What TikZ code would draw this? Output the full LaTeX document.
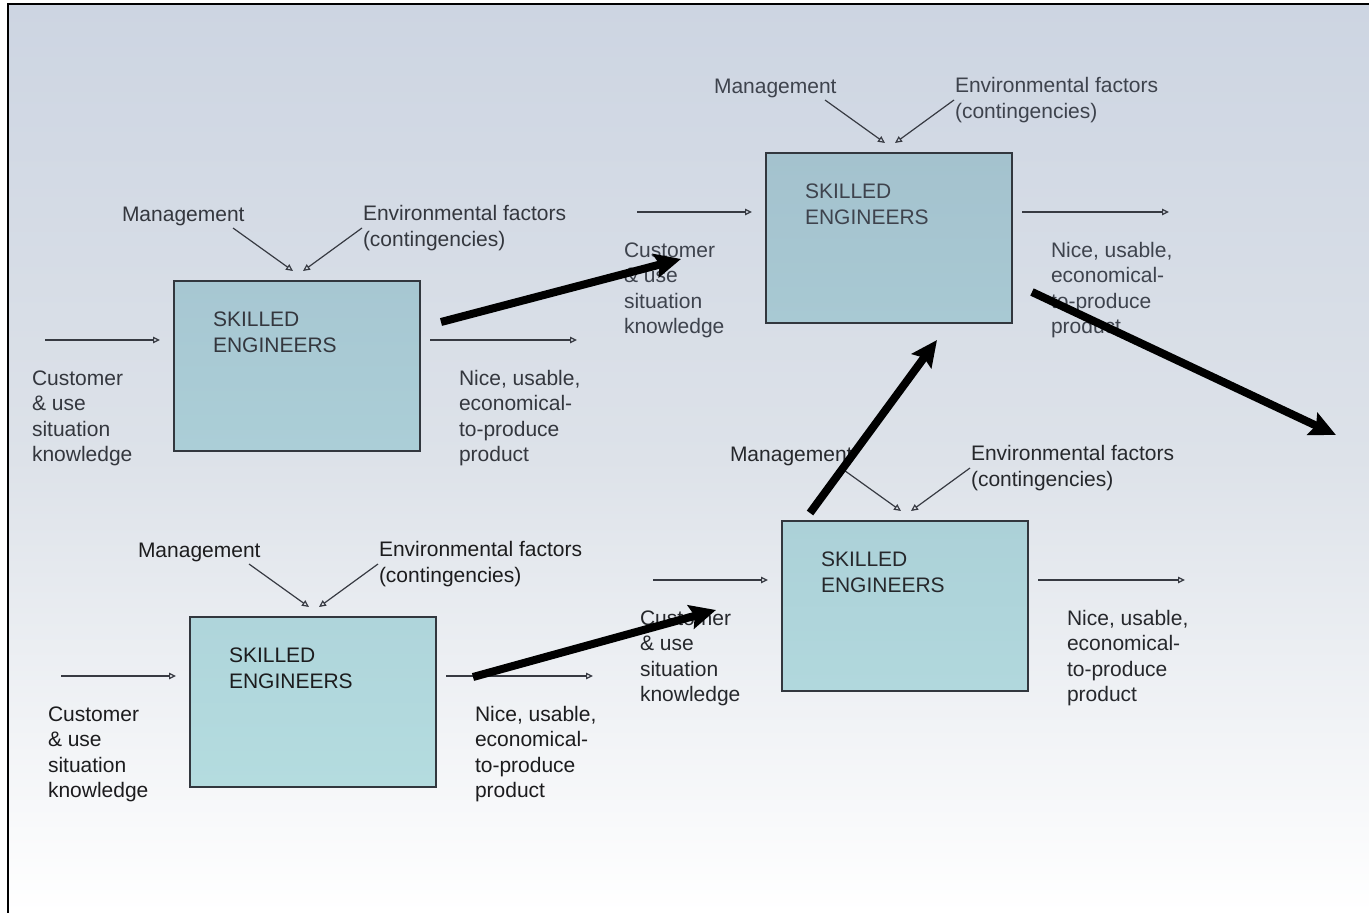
\documentclass[tikz,border=0pt]{standalone}
\usepackage{fontspec}
\setmainfont{Liberation Sans}
\usetikzlibrary{arrows.meta}
\definecolor{bgtop}{RGB}{205,213,226}
\definecolor{bgmid}{RGB}{221,226,233}
\definecolor{linegray}{RGB}{55,58,66}
\definecolor{boxedge}{RGB}{50,55,62}
\definecolor{txtA}{RGB}{62,67,77}
\definecolor{txtB}{RGB}{52,55,62}
\definecolor{txtC}{RGB}{38,40,44}
\definecolor{txtD}{RGB}{28,28,30}
\definecolor{boxAt}{RGB}{164,194,206}
\definecolor{boxAb}{RGB}{168,201,211}
\definecolor{boxBt}{RGB}{167,199,210}
\definecolor{boxBb}{RGB}{171,206,215}
\definecolor{boxCt}{RGB}{172,209,216}
\definecolor{boxCb}{RGB}{177,216,221}
\definecolor{boxDt}{RGB}{175,213,219}
\definecolor{boxDb}{RGB}{180,220,223}
\tikzset{
  x=1pt, y=-1pt,
  lbl/.style={anchor=base west, inner sep=0pt, outer sep=0pt, align=left,
    font=\fontsize{21}{25.5}\selectfont},
  engbox/.style={draw=boxedge, line width=1.3pt, anchor=north west,
    minimum width=246pt, minimum height=170pt, inner sep=0pt, outer sep=0pt},
  thinarrow/.style={draw=linegray, line width=1.2pt,
    -{Triangle[open, length=7pt, width=6.5pt]}},
  bigarrow/.style={draw=black, line width=8pt,
    -{Stealth[length=26pt 0, width=24pt 0, inset=4pt 0]}}
}
% multi-line labels: "base west" is the baseline of the last line
\newcommand\stagegroup[6]{%
  \begin{scope}[shift={(#2,#3)}, name prefix=#1-]
    \node[engbox, top color=#5, bottom color=#6] (box) at (0,0) {};
    \node[lbl, text=#4] (title) at (39,71) {SKILLED\\ENGINEERS};
    \node[lbl, text=#4] (mgmt) at (-52,-60) {Management};
    \node[lbl, text=#4] (env) at (189,-35) {Environmental factors\\(contingencies)};
    \node[lbl, text=#4] (cust) at (-142,180.5) {Customer\\\& use\\situation\\knowledge};
    \node[lbl, text=#4] (prod) at (285,180.5) {Nice, usable,\\economical-\\to-produce\\product};
    \coordinate (mgS) at (59,-53);
    \coordinate (mgE) at (119,-10);
    \coordinate (enS) at (188,-53);
    \coordinate (enE) at (129,-10);
    \coordinate (inS) at (-129,59);
    \coordinate (inE) at (-14,59);
    \coordinate (outS) at (256,59);
    \coordinate (outE) at (403,59);
    \draw[thinarrow] (mgS) -- (mgE);
    \draw[thinarrow] (enS) -- (enE);
    \draw[thinarrow] (inS) -- (inE);
    \draw[thinarrow] (outS) -- (outE);
  \end{scope}}
\begin{document}
\begin{tikzpicture}
  \useasboundingbox (0,0) rectangle (1369,913);
  \fill[white] (0,0) rectangle (1369,913);
  \shade[top color=bgtop, bottom color=white, middle color=bgmid] (8,4) rectangle (1369,913);
  \draw[line width=2.2pt, line cap=rect] (8.3,913) -- (8.3,4.3) -- (1369,4.3);
  \stagegroup{g1}{174}{281}{txtB}{boxBt}{boxBb}
  \stagegroup{g2}{766}{153}{txtA}{boxAt}{boxAb}
  \stagegroup{g3}{782}{521}{txtC}{boxCt}{boxCb}
  \stagegroup{g4}{190}{617}{txtD}{boxDt}{boxDb}
  \coordinate (a1s) at (441,322);
  \coordinate (a1e) at (681,259);
  \coordinate (a2s) at (810,513);
  \coordinate (a2e) at (937,340);
  \coordinate (a3s) at (1032,292);
  \coordinate (a3e) at (1336,435);
  \coordinate (a4s) at (473,677);
  \coordinate (a4e) at (716,610);
  \draw[bigarrow] (a1s) -- (a1e);
  \draw[bigarrow] (a2s) -- (a2e);
  \draw[bigarrow] (a3s) -- (a3e);
  \draw[bigarrow] (a4s) -- (a4e);
\end{tikzpicture}
\end{document}
